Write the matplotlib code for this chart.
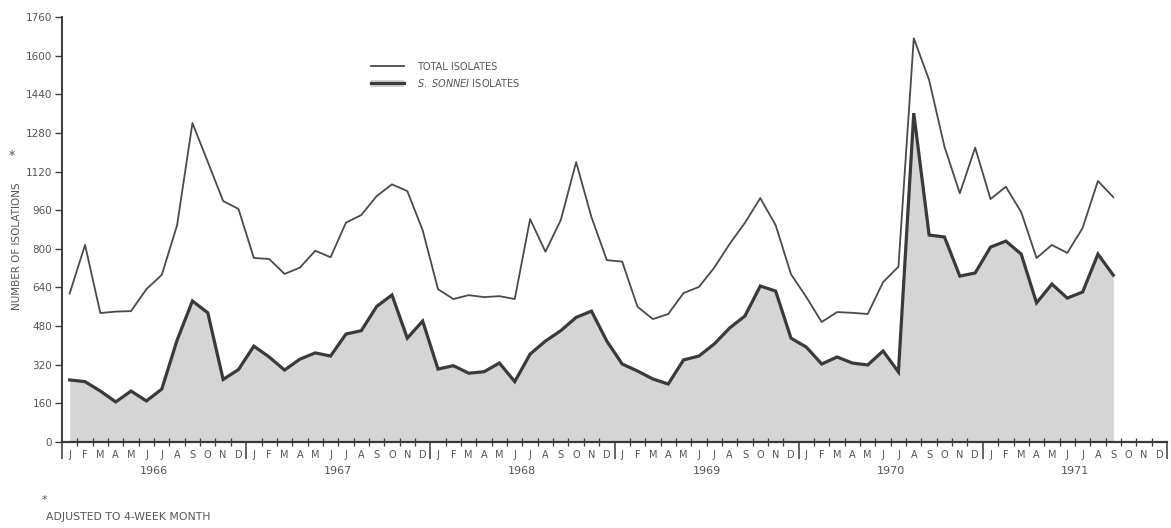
import matplotlib
matplotlib.use("Agg")
import matplotlib.pyplot as plt
from matplotlib.lines import Line2D
from matplotlib.patches import Patch
import matplotlib.transforms as mtransforms
import numpy as np

months = ["J", "F", "M", "A", "M", "J", "J", "A", "S", "O", "N", "D"]
years = ["1966", "1967", "1968", "1969", "1970", "1971"]
yticks = [0, 160, 320, 480, 640, 800, 960, 1120, 1280, 1440, 1600, 1760]

total = [615, 816, 534, 540, 542, 633, 692, 898, 1321, 1160, 998, 965,
         762, 758, 696, 722, 792, 765, 908, 940, 1018, 1067, 1039, 877,
         633, 592, 608, 600, 604, 592, 923, 788, 919, 1159, 931, 753,
         747, 560, 509, 530, 617, 642, 722, 820, 908, 1010, 898, 695,
         600, 497, 538, 535, 530, 662, 726, 1672, 1499, 1223, 1030, 1219,
         1006, 1057, 952, 762, 816, 783, 886, 1081, 1014]

sonnei = [257, 250, 211, 166, 211, 170, 219, 422, 584, 535, 259, 300,
          397, 352, 298, 343, 369, 356, 447, 461, 561, 609, 430, 501,
          302, 316, 285, 291, 327, 250, 364, 418, 461, 516, 542, 418,
          323, 294, 261, 240, 340, 356, 406, 472, 522, 646, 625, 430,
          393, 323, 352, 327, 319, 377, 290, 1362, 857, 849, 687, 700,
          807, 832, 778, 576, 654, 596, 621, 778, 691]

n_months = len(months) * len(years)
x = np.arange(len(total)) + 0.5

ink = "#3a3a3a"
txt = "#555555"

fig = plt.figure(figsize=(11.71, 5.28), dpi=100)
ax = fig.add_axes([62 / 1171, 1 - 442 / 528, 1105 / 1171, 425 / 528])

ax.fill_between(x, 0, sonnei, color="#d5d5d5", linewidth=0, zorder=1)
ax.plot(x, total, color="#4a4a4a", lw=1.3, zorder=3)
ax.plot(x, sonnei, color=ink, lw=2.3, zorder=3, solid_joinstyle="miter")

ax.set_xlim(0, n_months)
ax.set_ylim(0, 1760)

for s in ["top", "right"]:
    ax.spines[s].set_visible(False)
ax.spines["left"].set_color(ink)
ax.spines["left"].set_linewidth(1.4)
ax.spines["bottom"].set_color(ink)
ax.spines["bottom"].set_linewidth(1.6)

ax.set_yticks(yticks)
ax.set_yticklabels([str(v) for v in yticks], fontsize=7.5, color=txt)
ax.tick_params(axis="y", direction="out", length=5, width=1, color=ink, pad=2)

# x ticks: year boundaries (major) and month boundaries (minor)
ax.set_xticks(np.arange(0, n_months + 1, 12))
ax.set_xticklabels([])
ax.set_xticks(np.arange(0, n_months + 1, 1), minor=True)
ax.tick_params(axis="x", which="major", direction="out", length=12, width=1.1, color=ink)
ax.tick_params(axis="x", which="minor", direction="inout", length=6, width=0.9, color=ink)

trans = mtransforms.blended_transform_factory(ax.transData, ax.transAxes)
for yi, yr in enumerate(years):
    for mi, m in enumerate(months):
        ax.text(yi * 12 + mi + 0.5, -0.03, m, transform=trans, ha="center", va="center",
                fontsize=7, color=txt)
    ax.text(yi * 12 + 6, -0.068, yr, transform=trans, ha="center", va="center",
            fontsize=8, color=txt)

# y label
ax.text(-0.041, 0.46, "NUMBER OF ISOLATIONS", transform=ax.transAxes, rotation=90,
        ha="center", va="center", fontsize=7.5, color=txt)
ax.text(-0.045, 0.675, "*", transform=ax.transAxes, ha="center", va="center",
        fontsize=9, color=txt)

# legend
h_total = Line2D([], [], color="#4a4a4a", lw=1.3)
h_son = (Patch(facecolor="#d5d5d5", edgecolor="none"), Line2D([], [], color=ink, lw=2.3))
leg = ax.legend([h_total, h_son], ["TOTAL ISOLATES", r"$\it{S.\ SONNEI}$ ISOLATES"],
                loc="upper left", bbox_to_anchor=(0.272, 0.915), frameon=False,
                fontsize=7, handlelength=3.4, handletextpad=1.3, labelspacing=0.5)
for t in leg.get_texts():
    t.set_color(txt)

# footnote
fig.text(42 / 1171, 1 - 500 / 528, "*", fontsize=8, color=txt, ha="left", va="center")
fig.text(46 / 1171, 1 - 517 / 528, "ADJUSTED TO 4-WEEK MONTH", fontsize=7.8, color=txt,
         ha="left", va="center")

fig.savefig("out.png", dpi=100)
